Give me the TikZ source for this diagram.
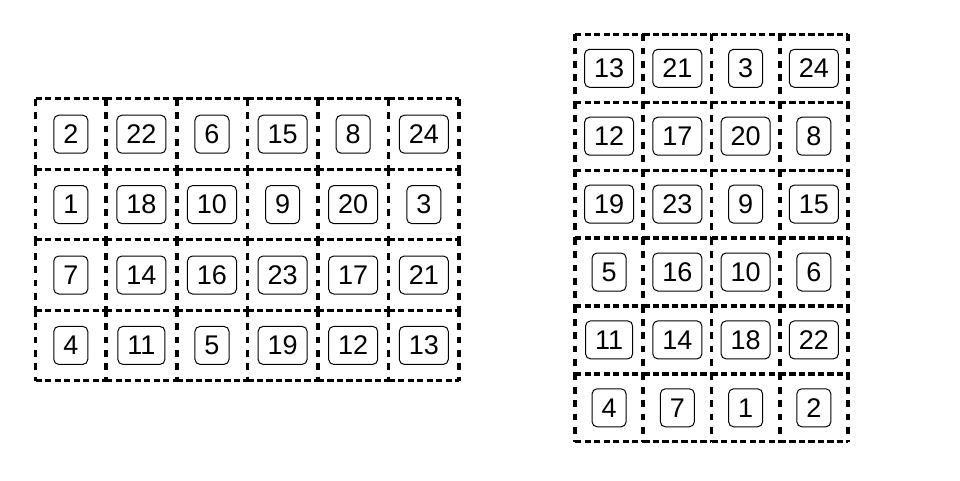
\documentclass[tikz,border=0pt]{standalone}
\usepackage{fontspec}
\setmainfont{Liberation Sans}
\begin{document}
\begin{tikzpicture}[x=1pt,y=-1pt,
  cellbox/.style={minimum width=#1, minimum height=#1, inner sep=0pt, outer sep=0pt},
  hline/.style={line width=3pt, dash pattern=on 6.3pt off 3.2pt},
  vline/.style={line width=3.6pt, dash pattern=on 6.7pt off 6.6pt},
  numbox/.style={draw, line width=1pt, rounded corners=5pt, inner xsep=9.5pt, inner ysep=0pt, minimum height=38pt, font=\fontsize{27}{27}\selectfont}]
\useasboundingbox (0,0) rectangle (960,480);
% left grid 6x4
\foreach \row/\list in {0/{2,22,6,15,8,24},1/{1,18,10,9,20,3},2/{7,14,16,23,17,21},3/{4,11,5,19,12,13}} {
  \foreach \v [count=\c from 0] in \list {
    \node[cellbox=70.6pt] (L\row\c) at ({35.5+35.3+70.6*\c},{99+35.2+70.4*\row}) {};
    \draw[hline] (L\row\c.north west) -- (L\row\c.north east) (L\row\c.south west) -- (L\row\c.south east);
    \draw[vline] (L\row\c.north west) -- (L\row\c.south west) (L\row\c.north east) -- (L\row\c.south east);
    \node[numbox] (LN\row\c) at (L\row\c.center) {\v};
  }
}
% right grid 4x6
\foreach \row/\list in {0/{13,21,3,24},1/{12,17,20,8},2/{19,23,9,15},3/{5,16,10,6},4/{11,14,18,22},5/{4,7,1,2}} {
  \foreach \v [count=\c from 0] in \list {
    \node[cellbox=68.2pt] (R\row\c) at ({575+34.1+68.25*\c},{34.3+34+67.9*\row}) {};
    \draw[hline] (R\row\c.north west) -- (R\row\c.north east) (R\row\c.south west) -- (R\row\c.south east);
    \draw[vline] (R\row\c.north west) -- (R\row\c.south west) (R\row\c.north east) -- (R\row\c.south east);
    \node[numbox] (RN\row\c) at (R\row\c.center) {\v};
  }
}
\end{tikzpicture}
\end{document}
